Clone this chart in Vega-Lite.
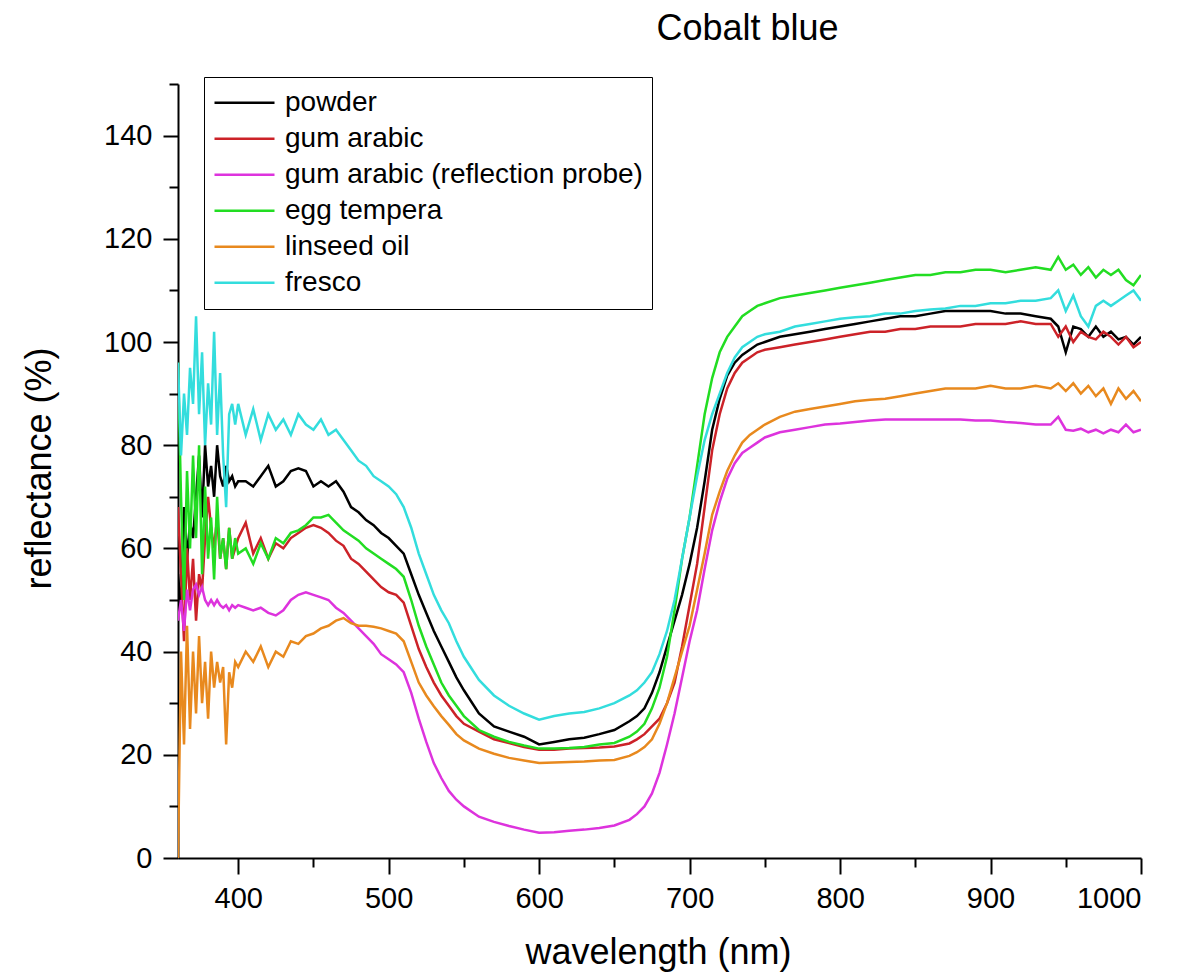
{
  "$schema": "https://vega.github.io/schema/vega-lite/v6.json",
  "autosize": {"type": "none"},
  "padding": {"left": 178, "top": 84, "right": 61, "bottom": 118},
  "width": 963,
  "height": 774,
  "background": "white",
  "config": {"font": "Liberation Sans", "view": {"stroke": null}},
  "title": {
    "text": "Cobalt blue",
    "fontSize": 36,
    "fontWeight": "normal",
    "color": "black",
    "anchor": "middle",
    "dx": 88,
    "offset": 1,
    "baseline": "alphabetic"
  },
  "datasets": {
    "names": [
      {"k": "p", "series": "powder"},
      {"k": "g", "series": "gum arabic"},
      {"k": "r", "series": "gum arabic (reflection probe)"},
      {"k": "e", "series": "egg tempera"},
      {"k": "l", "series": "linseed oil"},
      {"k": "f", "series": "fresco"}
    ],
    "spectra": [
      {"w": 360, "p": 55, "g": 68, "r": 46, "e": 96, "l": 0, "f": 96},
      {"w": 362, "p": 48, "g": 55, "r": 50, "e": 70, "l": 40, "f": 78},
      {"w": 364, "p": 68, "g": 42, "r": 44, "e": 50, "l": 22, "f": 90},
      {"w": 366, "p": 58, "g": 60, "r": 52, "e": 75, "l": 45, "f": 82},
      {"w": 368, "p": 65, "g": 50, "r": 48, "e": 60, "l": 25, "f": 95},
      {"w": 370, "p": 62, "g": 58, "r": 52, "e": 78, "l": 40, "f": 88},
      {"w": 372, "p": 70, "g": 46, "r": 53, "e": 62, "l": 28, "f": 105},
      {"w": 374, "p": 78, "g": 55, "r": 51, "e": 80, "l": 43, "f": 86},
      {"w": 376, "p": 66, "g": 52, "r": 52.5, "e": 55, "l": 30, "f": 98},
      {"w": 378, "p": 80, "g": 62, "r": 50, "e": 72, "l": 38, "f": 80},
      {"w": 380, "p": 72, "g": 70, "r": 49, "e": 58, "l": 27, "f": 92},
      {"w": 382, "p": 76, "g": 64, "r": 50, "e": 66, "l": 40, "f": 84},
      {"w": 384, "p": 70, "g": 60, "r": 49, "e": 54, "l": 33, "f": 102},
      {"w": 386, "p": 80, "g": 66, "r": 50, "e": 70, "l": 38, "f": 82},
      {"w": 388, "p": 74, "g": 58, "r": 49, "e": 58, "l": 34, "f": 94},
      {"w": 390, "p": 72, "g": 62, "r": 48.5, "e": 62, "l": 37, "f": 78},
      {"w": 392, "p": 76, "g": 56, "r": 49, "e": 56, "l": 22, "f": 68},
      {"w": 394, "p": 73, "g": 64, "r": 48, "e": 64, "l": 36, "f": 86},
      {"w": 396, "p": 74, "g": 58, "r": 49, "e": 58, "l": 33, "f": 88},
      {"w": 398, "p": 72, "g": 60, "r": 48.5, "e": 62, "l": 38, "f": 84},
      {"w": 400, "p": 73, "g": 62, "r": 49, "e": 59, "l": 37, "f": 88},
      {"w": 405, "p": 73, "g": 65, "r": 48.5, "e": 60, "l": 40, "f": 82},
      {"w": 410, "p": 72, "g": 59, "r": 48, "e": 57, "l": 38, "f": 87},
      {"w": 415, "p": 74, "g": 62, "r": 48.5, "e": 61, "l": 41, "f": 81},
      {"w": 420, "p": 76, "g": 58, "r": 47.5, "e": 58, "l": 37, "f": 86},
      {"w": 425, "p": 72, "g": 61, "r": 47, "e": 62, "l": 40, "f": 83},
      {"w": 430, "p": 73, "g": 60, "r": 48, "e": 61, "l": 39, "f": 85},
      {"w": 435, "p": 75, "g": 62, "r": 50, "e": 63, "l": 42, "f": 82},
      {"w": 440, "p": 75.5, "g": 63, "r": 51, "e": 63.5, "l": 41.5, "f": 86},
      {"w": 445, "p": 75, "g": 64, "r": 51.5, "e": 64.5, "l": 43, "f": 84},
      {"w": 450, "p": 72, "g": 64.5, "r": 51, "e": 66, "l": 43.5, "f": 83},
      {"w": 455, "p": 73, "g": 64, "r": 50.5, "e": 66, "l": 44.5, "f": 85},
      {"w": 460, "p": 72, "g": 63, "r": 50, "e": 66.5, "l": 45, "f": 82},
      {"w": 465, "p": 73, "g": 61.5, "r": 48.5, "e": 65, "l": 46, "f": 83},
      {"w": 470, "p": 71, "g": 60.5, "r": 47.5, "e": 63.5, "l": 46.5, "f": 81},
      {"w": 475, "p": 68, "g": 58, "r": 46, "e": 62.5, "l": 45.5, "f": 79},
      {"w": 480, "p": 67, "g": 57, "r": 44.5, "e": 61.5, "l": 45, "f": 77},
      {"w": 485, "p": 65.5, "g": 55.5, "r": 43, "e": 60, "l": 45, "f": 76},
      {"w": 490, "p": 64.5, "g": 54, "r": 41.5, "e": 59, "l": 44.8, "f": 74},
      {"w": 495, "p": 63, "g": 52.5, "r": 39.5, "e": 58, "l": 44.5, "f": 73},
      {"w": 500, "p": 62, "g": 51.5, "r": 38.5, "e": 57, "l": 44, "f": 72},
      {"w": 505, "p": 60.5, "g": 51, "r": 37.5, "e": 56, "l": 43.5, "f": 70.5},
      {"w": 510, "p": 59, "g": 49.5, "r": 36, "e": 54.5, "l": 42, "f": 68},
      {"w": 515, "p": 55, "g": 45, "r": 32, "e": 50, "l": 38, "f": 64},
      {"w": 520, "p": 51, "g": 40.5, "r": 27, "e": 45, "l": 34, "f": 59},
      {"w": 525, "p": 47.5, "g": 37, "r": 22.5, "e": 41, "l": 31.5, "f": 55},
      {"w": 530, "p": 44, "g": 34, "r": 18.4, "e": 37.5, "l": 29.4, "f": 51},
      {"w": 535, "p": 41, "g": 31.5, "r": 15.5, "e": 34, "l": 27.5, "f": 48},
      {"w": 540, "p": 38, "g": 29.5, "r": 13, "e": 31.5, "l": 25.8, "f": 45.5},
      {"w": 545, "p": 35, "g": 27.5, "r": 11.3, "e": 29.5, "l": 24, "f": 42},
      {"w": 550, "p": 32.5, "g": 26, "r": 10, "e": 27.5, "l": 22.8, "f": 39},
      {"w": 560, "p": 28, "g": 24.5, "r": 8, "e": 24.8, "l": 21.2, "f": 34.5},
      {"w": 570, "p": 25.5, "g": 23, "r": 7, "e": 23.5, "l": 20.2, "f": 31.5},
      {"w": 580, "p": 24.5, "g": 22.3, "r": 6.2, "e": 22.5, "l": 19.4, "f": 29.5},
      {"w": 590, "p": 23.5, "g": 21.5, "r": 5.5, "e": 21.8, "l": 18.9, "f": 28},
      {"w": 600, "p": 22, "g": 21, "r": 4.9, "e": 21.2, "l": 18.4, "f": 26.8},
      {"w": 610, "p": 22.5, "g": 21, "r": 5, "e": 21.2, "l": 18.5, "f": 27.5},
      {"w": 620, "p": 23, "g": 21.2, "r": 5.3, "e": 21.3, "l": 18.6, "f": 28},
      {"w": 630, "p": 23.3, "g": 21.3, "r": 5.5, "e": 21.5, "l": 18.7, "f": 28.3},
      {"w": 640, "p": 24, "g": 21.4, "r": 5.8, "e": 22, "l": 18.9, "f": 29},
      {"w": 650, "p": 24.8, "g": 21.6, "r": 6.3, "e": 22.3, "l": 19, "f": 30},
      {"w": 660, "p": 26.5, "g": 22.2, "r": 7.4, "e": 23.5, "l": 19.8, "f": 31.5},
      {"w": 665, "p": 27.5, "g": 23, "r": 8.5, "e": 24.5, "l": 20.5, "f": 32.5},
      {"w": 670, "p": 29, "g": 24, "r": 10, "e": 26, "l": 21.5, "f": 34},
      {"w": 675, "p": 32, "g": 25.5, "r": 12.5, "e": 29, "l": 23, "f": 36},
      {"w": 680, "p": 36, "g": 27, "r": 16.5, "e": 33, "l": 26, "f": 39.5},
      {"w": 685, "p": 41, "g": 30, "r": 22, "e": 39, "l": 30, "f": 44},
      {"w": 690, "p": 46, "g": 34, "r": 28, "e": 48, "l": 35, "f": 50},
      {"w": 695, "p": 51, "g": 41, "r": 35, "e": 58, "l": 40, "f": 58},
      {"w": 700, "p": 57, "g": 49, "r": 42, "e": 66, "l": 45, "f": 66},
      {"w": 705, "p": 64, "g": 57, "r": 48, "e": 76, "l": 52, "f": 74},
      {"w": 710, "p": 73, "g": 68, "r": 56, "e": 86, "l": 59, "f": 81},
      {"w": 715, "p": 83, "g": 79, "r": 63.5, "e": 93, "l": 66.5, "f": 86},
      {"w": 720, "p": 89, "g": 86, "r": 69, "e": 98, "l": 71, "f": 90},
      {"w": 725, "p": 93.5, "g": 91, "r": 73.5, "e": 101, "l": 75, "f": 94},
      {"w": 730, "p": 96, "g": 94, "r": 76.5, "e": 103, "l": 78, "f": 97},
      {"w": 735, "p": 97.5, "g": 96, "r": 78.5, "e": 105, "l": 80.5, "f": 99},
      {"w": 740, "p": 98.5, "g": 97, "r": 79.5, "e": 106, "l": 82, "f": 100},
      {"w": 745, "p": 99.5, "g": 98, "r": 80.5, "e": 107, "l": 83, "f": 101},
      {"w": 750, "p": 100, "g": 98.5, "r": 81.5, "e": 107.5, "l": 84, "f": 101.5},
      {"w": 760, "p": 101, "g": 99, "r": 82.5, "e": 108.5, "l": 85.5, "f": 102},
      {"w": 770, "p": 101.5, "g": 99.5, "r": 83, "e": 109, "l": 86.5, "f": 103},
      {"w": 780, "p": 102, "g": 100, "r": 83.5, "e": 109.5, "l": 87, "f": 103.5},
      {"w": 790, "p": 102.5, "g": 100.5, "r": 84, "e": 110, "l": 87.5, "f": 104},
      {"w": 800, "p": 103, "g": 101, "r": 84.2, "e": 110.5, "l": 88, "f": 104.5},
      {"w": 810, "p": 103.5, "g": 101.5, "r": 84.5, "e": 111, "l": 88.5, "f": 104.8},
      {"w": 820, "p": 104, "g": 102, "r": 84.8, "e": 111.5, "l": 88.8, "f": 105},
      {"w": 830, "p": 104.5, "g": 102, "r": 85, "e": 112, "l": 89, "f": 105.5},
      {"w": 840, "p": 105, "g": 102.5, "r": 85, "e": 112.5, "l": 89.5, "f": 105.5},
      {"w": 850, "p": 105, "g": 102.5, "r": 85, "e": 113, "l": 90, "f": 106},
      {"w": 860, "p": 105.5, "g": 103, "r": 85, "e": 113, "l": 90.5, "f": 106.3},
      {"w": 870, "p": 106, "g": 103, "r": 85, "e": 113.5, "l": 91, "f": 106.5},
      {"w": 880, "p": 106, "g": 103, "r": 85, "e": 113.5, "l": 91, "f": 107},
      {"w": 890, "p": 106, "g": 103.5, "r": 84.8, "e": 114, "l": 91, "f": 107},
      {"w": 900, "p": 106, "g": 103.5, "r": 84.8, "e": 114, "l": 91.5, "f": 107.5},
      {"w": 910, "p": 105.5, "g": 103.5, "r": 84.5, "e": 113.5, "l": 91, "f": 107.5},
      {"w": 920, "p": 105.5, "g": 104, "r": 84.3, "e": 114, "l": 91, "f": 108},
      {"w": 930, "p": 105, "g": 103.5, "r": 84, "e": 114.5, "l": 91.5, "f": 108},
      {"w": 940, "p": 104.5, "g": 103.5, "r": 84, "e": 114, "l": 91, "f": 108.5},
      {"w": 945, "p": 103, "g": 101, "r": 85.5, "e": 116.5, "l": 92, "f": 110},
      {"w": 950, "p": 98, "g": 103, "r": 83, "e": 114, "l": 90.5, "f": 106},
      {"w": 955, "p": 103, "g": 100, "r": 82.8, "e": 115, "l": 92, "f": 109},
      {"w": 960, "p": 102.5, "g": 102, "r": 83.2, "e": 113, "l": 90, "f": 105},
      {"w": 965, "p": 101, "g": 101, "r": 82.5, "e": 114.5, "l": 91.5, "f": 103},
      {"w": 970, "p": 103, "g": 100.5, "r": 83, "e": 112.5, "l": 89.5, "f": 107},
      {"w": 975, "p": 101, "g": 102, "r": 82.3, "e": 114, "l": 91, "f": 108},
      {"w": 980, "p": 102, "g": 101, "r": 83, "e": 113, "l": 88, "f": 107},
      {"w": 985, "p": 100.5, "g": 99.5, "r": 82.5, "e": 114, "l": 91, "f": 108},
      {"w": 990, "p": 101, "g": 101, "r": 84, "e": 112, "l": 89, "f": 109},
      {"w": 995, "p": 99.5, "g": 99, "r": 82.5, "e": 111, "l": 90.5, "f": 110},
      {"w": 1000, "p": 101, "g": 100, "r": 83, "e": 113, "l": 88.5, "f": 108}
    ]
  },
  "data": {"name": "spectra"},
  "transform": [
    {"fold": ["p", "g", "r", "e", "l", "f"], "as": ["k", "v"]},
    {"lookup": "k", "from": {"data": {"name": "names"}, "key": "k", "fields": ["series"]}}
  ],
  "layer": [
    {
      "mark": {"type": "line", "strokeWidth": 2.5, "clip": true},
      "encoding": {
        "x": {
          "field": "w",
          "type": "quantitative",
          "scale": {"domain": [360, 1000], "nice": false, "zero": false},
          "axis": {
            "orient": "bottom",
            "values": [400, 500, 600, 700, 800, 900, 1000],
            "format": "d",
            "grid": false,
            "domainColor": "black",
            "domainWidth": 2,
            "tickColor": "black",
            "tickWidth": 2,
            "tickSize": 16,
            "labelFontSize": 29,
            "labelColor": "black",
            "labelPadding": 10,
            "title": "wavelength (nm)",
            "titleFontSize": 36,
            "titleFontWeight": "normal",
            "titleColor": "black",
            "titleX": 480,
            "titleY": 105,
            "titleAlign": "center",
            "titleBaseline": "alphabetic"
          }
        },
        "y": {
          "field": "v",
          "type": "quantitative",
          "scale": {"domain": [0, 150], "nice": false},
          "axis": {
            "orient": "left",
            "values": [0, 20, 40, 60, 80, 100, 120, 140],
            "grid": false,
            "domainColor": "black",
            "domainWidth": 2,
            "tickColor": "black",
            "tickWidth": 2,
            "tickSize": 15,
            "labelFontSize": 29,
            "labelColor": "black",
            "labelPadding": 11,
            "title": "reflectance (%)",
            "titleFontSize": 36,
            "titleFontWeight": "normal",
            "titleColor": "black",
            "titleAngle": -90,
            "titleX": -139,
            "titleY": 384,
            "titleAlign": "center",
            "titleBaseline": "middle"
          }
        },
        "color": {
          "field": "series",
          "type": "nominal",
          "scale": {
            "domain": ["powder", "gum arabic", "gum arabic (reflection probe)", "egg tempera", "linseed oil", "fresco"],
            "range": ["#000000", "#cc2228", "#dd33dd", "#22dd22", "#e8891e", "#33dddd"]
          },
          "legend": {
            "orient": "none",
            "legendX": 26,
            "legendY": -7,
            "title": null,
            "symbolType": "stroke",
            "symbolSize": 3600,
            "symbolStrokeWidth": 2.5,
            "labelFontSize": 28,
            "labelColor": "black",
            "labelOffset": 9,
            "labelLimit": 0,
            "clipHeight": 33.5,
            "rowPadding": 2,
            "padding": 9,
            "strokeColor": "black",
            "fillColor": "white"
          }
        }
      }
    },
    {
      "mark": {"type": "line", "opacity": 0},
      "encoding": {
        "x": {
          "field": "w",
          "type": "quantitative",
          "axis": {
            "orient": "bottom",
            "values": [450, 550, 650, 750, 850, 950],
            "grid": false,
            "domain": false,
            "labels": false,
            "tickColor": "black",
            "tickWidth": 2,
            "tickSize": 9,
            "title": null
          }
        },
        "y": {
          "field": "v",
          "type": "quantitative",
          "axis": {
            "orient": "left",
            "values": [10, 30, 50, 70, 90, 110, 130, 150],
            "grid": false,
            "domain": false,
            "labels": false,
            "tickColor": "black",
            "tickWidth": 2,
            "tickSize": 9,
            "title": null
          }
        },
        "detail": {"field": "k", "type": "nominal"}
      }
    }
  ],
  "resolve": {"axis": {"x": "independent", "y": "independent"}}
}
